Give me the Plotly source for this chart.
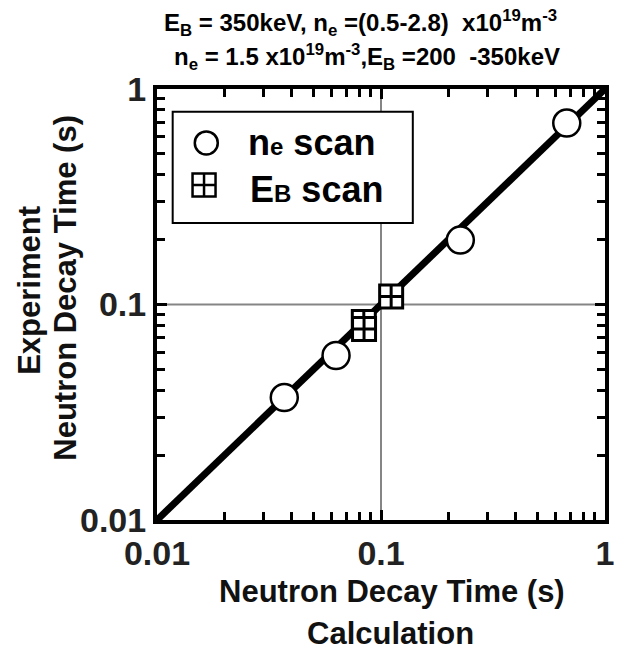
import plotly.graph_objects as go

# ---- data ----
ne_calc = [0.037, 0.063, 0.226, 0.675]
ne_exp = [0.037, 0.058, 0.199, 0.695]
eb_calc = [0.0838, 0.084, 0.111]
eb_exp = [0.083, 0.077, 0.109]
line_x = [0.01, 1.0]
line_y = [0.01, 1.0]
major_vals = [0.01, 0.1, 1]
major_text = ["0.01", "0.1", "1"]
grid_val = 0.1

FONT = "Liberation Sans, Arial, sans-serif"

fig = go.Figure()
fig.add_trace(go.Scatter(x=line_x, y=line_y, mode="lines",
                         line=dict(color="black", width=7), showlegend=False))
fig.add_trace(go.Scatter(x=ne_calc, y=ne_exp, mode="markers", name="ne scan",
                         marker=dict(symbol="circle", size=27, color="white",
                                     line=dict(color="black", width=2.5)),
                         showlegend=False))
fig.add_trace(go.Scatter(x=eb_calc, y=eb_exp, mode="markers", name="EB scan",
                         marker=dict(symbol="square-cross", size=23, color="white",
                                     line=dict(color="black", width=3)),
                         showlegend=False))

# manual legend symbols on an overlay axis (0..1)
fig.add_trace(go.Scatter(x=[0.110], y=[0.875], xaxis="x2", yaxis="y2", mode="markers",
                         marker=dict(symbol="circle", size=23, color="white",
                                     line=dict(color="black", width=2.5)),
                         showlegend=False, hoverinfo="skip"))
fig.add_trace(go.Scatter(x=[0.105], y=[0.777], xaxis="x2", yaxis="y2", mode="markers",
                         marker=dict(symbol="square-cross", size=23, color="white",
                                     line=dict(color="black", width=2.5)),
                         showlegend=False, hoverinfo="skip"))

axis_common = dict(
    type="log", range=[-2, 0], tickmode="array", tickvals=major_vals, ticktext=major_text,
    showline=True, linecolor="black", linewidth=4, mirror="ticks",
    ticks="inside", ticklen=10, tickwidth=2.5, tickcolor="black",
    showgrid=False, zeroline=False,
    tickfont=dict(family=FONT, size=34, color="#222", weight="bold"),
    minor=dict(dtick="D1", ticks="inside", ticklen=8, tickwidth=2.5,
               tickcolor="black", showgrid=False),
)

fig.update_layout(
    width=626, height=654,
    margin=dict(l=157, r=14, t=89, b=134),
    plot_bgcolor="white", paper_bgcolor="white",
    xaxis=dict(**axis_common, ticklabelstandoff=0),
    yaxis=dict(**axis_common, ticklabelstandoff=0),
    xaxis2=dict(overlaying="x", range=[0, 1], visible=False),
    yaxis2=dict(overlaying="y", range=[0, 1], visible=False),
    font=dict(family=FONT, color="black"),
    showlegend=False,
)

# gridlines at 0.1
fig.add_shape(type="line", xref="x", yref="paper", x0=grid_val, x1=grid_val, y0=0, y1=1,
              line=dict(color="#858585", width=2), layer="below")
fig.add_shape(type="line", xref="paper", yref="y", x0=0, x1=1, y0=grid_val, y1=grid_val,
              line=dict(color="#858585", width=2), layer="below")
# legend box
fig.add_shape(type="rect", xref="paper", yref="paper",
              x0=0.035, x1=0.571, y0=0.689, y1=0.947,
              line=dict(color="black", width=2), fillcolor="white", layer="below")

def add(text, x, y, size, xanchor="center", angle=0, color="black"):
    fig.add_annotation(text=text, x=x, y=y, xref="paper", yref="paper",
                       xanchor=xanchor, yanchor="middle", showarrow=False,
                       textangle=angle, font=dict(family=FONT, size=size, color=color))

add("<b>E<sub>B</sub> = 350keV, n<sub>e</sub> =(0.5-2.8)  x10<sup>19</sup>m<sup>-3</sup></b>",
    0.455, 1.152, 24)
add("<b>n<sub>e</sub> = 1.5 x10<sup>19</sup>m<sup>-3</sup>,E<sub>B</sub> =200  -350keV</b>",
    0.468, 1.075, 24)
add("<b>n<span style='font-size:24px'>e</span> scan</b>", 0.198, 0.875, 36, xanchor="left")
add("<b>E<span style='font-size:24px'>B</span> scan</b>", 0.204, 0.766, 36, xanchor="left")
add("<b>Neutron Decay Time (s)</b>", 0.525, -0.167, 31, color="#111")
add("<b>Calculation</b>", 0.521, -0.2645, 31, color="#111")
add("<b>Experiment</b>", -0.2835, 0.534, 31, angle=-90, color="#111")
add("<b>Neutron Decay Time (s)</b>", -0.204, 0.538, 31, angle=-90, color="#111")

fig.write_html("out.html")
